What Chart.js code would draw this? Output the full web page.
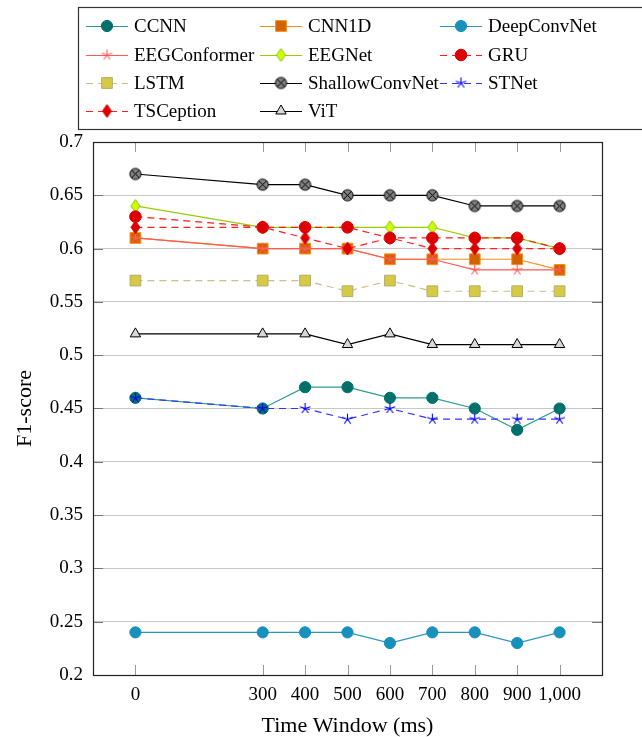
<!DOCTYPE html>
<html lang="en">
<head>
    <meta charset="UTF-8">
    <title>F1-score vs Time Window</title>
    <script src="https://cdn.jsdelivr.net/npm/chart.js"></script>
    <style>
        body { margin: 0; background: #fff; }
        canvas { display: block; }
    </style>
</head>
<body>
    <canvas id="f1Chart" width="642" height="737"></canvas>

    <script>
        // Datos
        const windows = [0, 300, 400, 500, 600, 700, 800, 900, 1000];
        const yTicks = [0.2, 0.25, 0.3, 0.35, 0.4, 0.45, 0.5, 0.55, 0.6, 0.65, 0.7];
        const modelNames = ['CCNN', 'CNN1D', 'DeepConvNet', 'EEGConformer', 'EEGNet', 'GRU',
                            'LSTM', 'ShallowConvNet', 'STNet', 'TSCeption', 'ViT'];

        const ccnn           = [0.46, 0.45, 0.47, 0.47, 0.46, 0.46, 0.45, 0.43, 0.45];
        const cnn1d          = [0.61, 0.60, 0.60, 0.60, 0.59, 0.59, 0.59, 0.59, 0.58];
        const deepConvNet    = [0.24, 0.24, 0.24, 0.24, 0.23, 0.24, 0.24, 0.23, 0.24];
        const eegConformer   = [0.61, 0.60, 0.60, 0.60, 0.59, 0.59, 0.58, 0.58, 0.58];
        const eegNet         = [0.64, 0.62, 0.62, 0.62, 0.62, 0.62, 0.61, 0.61, 0.60];
        const gru            = [0.63, 0.62, 0.62, 0.62, 0.61, 0.61, 0.61, 0.61, 0.60];
        const lstm           = [0.57, 0.57, 0.57, 0.56, 0.57, 0.56, 0.56, 0.56, 0.56];
        const shallowConvNet = [0.67, 0.66, 0.66, 0.65, 0.65, 0.65, 0.64, 0.64, 0.64];
        const stNet          = [0.46, 0.45, 0.45, 0.44, 0.45, 0.44, 0.44, 0.44, 0.44];
        const tsception      = [0.62, 0.62, 0.61, 0.60, 0.61, 0.60, 0.60, 0.60, 0.60];
        const vit            = [0.52, 0.52, 0.52, 0.51, 0.52, 0.51, 0.51, 0.51, 0.51];

        const seriesValues = [ccnn, cnn1d, deepConvNet, eegConformer, eegNet, gru,
                              lstm, shallowConvNet, stNet, tsception, vit];

        const serif = 'Liberation Serif, Times New Roman, serif';

        // Marcadores propios (otimes, asterisco, rombo)
        function marker(size, draw) {
            const c = document.createElement('canvas');
            c.width = size; c.height = size;
            draw(c.getContext('2d'), size / 2);
            return c;
        }
        const otimes = marker(15, (ctx, m) => {
            ctx.beginPath();
            ctx.arc(m, m, 5.6, 0, Math.PI * 2);
            ctx.fillStyle = '#808080';
            ctx.fill();
            ctx.strokeStyle = '#000';
            ctx.lineWidth = 1;
            ctx.stroke();
            const d = 5.6 * Math.SQRT1_2;
            ctx.beginPath();
            ctx.moveTo(m - d, m - d); ctx.lineTo(m + d, m + d);
            ctx.moveTo(m + d, m - d); ctx.lineTo(m - d, m + d);
            ctx.stroke();
        });
        function asterisk(color) {
            return marker(15, (ctx, m) => {
                ctx.strokeStyle = color;
                ctx.lineWidth = 1.1;
                ctx.beginPath();
                for (let k = 0; k < 5; k++) {
                    const a = -Math.PI / 2 + k * 2 * Math.PI / 5;
                    ctx.moveTo(m, m);
                    ctx.lineTo(m + 5.5 * Math.cos(a), m + 5.5 * Math.sin(a));
                }
                ctx.stroke();
            });
        }
        function diamond(fill, stroke) {
            return marker(17, (ctx, m) => {
                ctx.beginPath();
                ctx.moveTo(m, m - 6.5);
                ctx.lineTo(m + 4.5, m);
                ctx.lineTo(m, m + 6.5);
                ctx.lineTo(m - 4.5, m);
                ctx.closePath();
                ctx.fillStyle = fill;
                ctx.fill();
                ctx.strokeStyle = stroke;
                ctx.lineWidth = 1;
                ctx.stroke();
            });
        }

        const styles = [
            { line: '#2e9a94', fill: '#00706b', edge: '#00706b', point: 'circle', r: 5.6 },
            { line: '#ff8c1a', fill: '#d26200', edge: '#ff8c1a', point: 'rect', r: 7.6 },
            { line: '#2b97bf', fill: '#1790bb', edge: '#1790bb', point: 'circle', r: 5.6 },
            { line: '#ff5a5a', fill: '#ff5a5a', edge: '#ff5a5a', point: asterisk('#ff5a5a'), r: 5 },
            { line: '#99cc00', fill: '#ccff00', edge: '#8fbf00', point: diamond('#ccff00', '#8fbf00'), r: 5 },
            { line: '#ff1a1a', fill: '#dd0000', edge: '#dd0000', point: 'circle', r: 5.8, dash: [7, 5] },
            { line: '#c8c088', fill: '#d6ca44', edge: '#b5ad70', point: 'rect', r: 7.6, dash: [7, 5] },
            { line: '#000000', fill: '#808080', edge: '#000000', point: otimes, r: 5.6 },
            { line: '#3333ff', fill: '#0000ff', edge: '#0000ff', point: asterisk('#0000ff'), r: 5, dash: [7, 5] },
            { line: '#ff2020', fill: '#dd0000', edge: '#dd0000', point: diamond('#dd0000', '#dd0000'), r: 5, dash: [7, 5] },
            { line: '#000000', fill: '#d8d8d8', edge: '#000000', point: 'triangle', r: 6 }
        ];

        const datasets = modelNames.map((name, i) => ({
            label: name,
            data: windows.map((w, j) => ({ x: w, y: seriesValues[i][j] })),
            borderColor: styles[i].line,
            borderWidth: 1.2,
            borderDash: styles[i].dash || [],
            backgroundColor: styles[i].fill,
            pointBackgroundColor: styles[i].fill,
            pointBorderColor: styles[i].edge,
            pointBorderWidth: 1,
            pointStyle: styles[i].point,
            pointRadius: styles[i].r,
            tension: 0,
            fill: false,
            order: modelNames.length - i // las últimas series quedan encima
        }));

        // Marco, marcas interiores y leyenda en cuadro
        const framePlugin = {
            id: 'frame',
            beforeDatasetsDraw(chart) {
                const { ctx, chartArea: a, scales } = chart;
                ctx.save();
                ctx.lineWidth = 1;
                ctx.strokeStyle = '#9a9a9a';
                ctx.beginPath();
                windows.forEach(w => {
                    const x = Math.round(scales.x.getPixelForValue(w)) + 0.5;
                    ctx.moveTo(x, a.top); ctx.lineTo(x, a.top + 10);
                    ctx.moveTo(x, a.bottom); ctx.lineTo(x, a.bottom - 10);
                });
                ctx.stroke();
                ctx.strokeStyle = '#777';
                ctx.beginPath();
                yTicks.forEach(v => {
                    const y = Math.round(scales.y.getPixelForValue(v)) + 0.5;
                    ctx.moveTo(a.left, y); ctx.lineTo(a.left + 10, y);
                    ctx.moveTo(a.right, y); ctx.lineTo(a.right - 10, y);
                });
                ctx.stroke();
                ctx.restore();
            },
            afterDraw(chart) {
                const { ctx, chartArea: a } = chart;
                ctx.save();
                ctx.strokeStyle = '#222';
                ctx.lineWidth = 1.2;
                ctx.strokeRect(Math.round(a.left) + 0.5, Math.round(a.top) + 0.5,
                               Math.round(a.right - a.left), Math.round(a.bottom - a.top));

                // leyenda
                ctx.strokeStyle = '#333';
                ctx.lineWidth = 1.2;
                ctx.strokeRect(78.5, 7.5, 700, 122);
                const colX = [86, 260, 440];
                const rowY = [26, 55, 83, 111];
                ctx.font = '19px ' + serif;
                ctx.textBaseline = 'middle';
                datasets.forEach((ds, i) => {
                    const x0 = colX[i % 3];
                    const y0 = rowY[Math.floor(i / 3)];
                    ctx.strokeStyle = ds.borderColor;
                    ctx.lineWidth = 1.2;
                    ctx.setLineDash(ds.borderDash);
                    ctx.beginPath();
                    ctx.moveTo(x0, y0 + 0.5);
                    ctx.lineTo(x0 + 42, y0 + 0.5);
                    ctx.stroke();
                    ctx.setLineDash([]);
                    ctx.fillStyle = ds.pointBackgroundColor;
                    ctx.strokeStyle = ds.pointBorderColor;
                    ctx.lineWidth = 1;
                    Chart.helpers.drawPoint(ctx, {
                        pointStyle: ds.pointStyle,
                        radius: ds.pointRadius,
                        rotation: 0,
                        borderWidth: 1
                    }, x0 + 21, y0);
                    ctx.fillStyle = '#000';
                    ctx.fillText(ds.label, x0 + 48, y0 + 1);
                });
                ctx.restore();
            }
        };

        const config = {
            type: 'line',
            data: { datasets: datasets },
            options: {
                responsive: false,
                animation: false,
                layout: { padding: { top: 142, right: 40, bottom: 0, left: 0 } },
                scales: {
                    x: {
                        type: 'linear',
                        min: -100,
                        max: 1100,
                        afterBuildTicks: s => { s.ticks = windows.map(v => ({ value: v })); },
                        afterFit: s => { s.height = 62; },
                        ticks: {
                            autoSkip: false,
                            maxRotation: 0,
                            padding: 1,
                            color: '#000',
                            font: { family: serif, size: 19 },
                            callback: v => v.toLocaleString('en-US')
                        },
                        grid: { display: false },
                        border: { display: false },
                        title: {
                            display: true,
                            text: 'Time Window (ms)',
                            color: '#000',
                            font: { family: serif, size: 22, lineHeight: 1 },
                            padding: { top: 0, bottom: 0 }
                        }
                    },
                    y: {
                        min: 0.2,
                        max: 0.7,
                        afterBuildTicks: s => { s.ticks = yTicks.map(v => ({ value: v })); },
                        afterFit: s => { s.width = 93; },
                        ticks: {
                            padding: 10,
                            color: '#000',
                            font: { family: serif, size: 19 },
                            callback: v => String(+v.toFixed(2))
                        },
                        grid: { color: '#c8c8c8', lineWidth: 1, drawTicks: false },
                        border: { display: false },
                        title: {
                            display: true,
                            text: 'F1-score',
                            color: '#000',
                            font: { family: serif, size: 22, lineHeight: 1 },
                            padding: { top: 14, bottom: 0 }
                        }
                    }
                },
                plugins: {
                    legend: { display: false },
                    tooltip: { enabled: false }
                }
            },
            plugins: [framePlugin]
        };

        new Chart(document.getElementById('f1Chart'), config);
    </script>
</body>
</html>
